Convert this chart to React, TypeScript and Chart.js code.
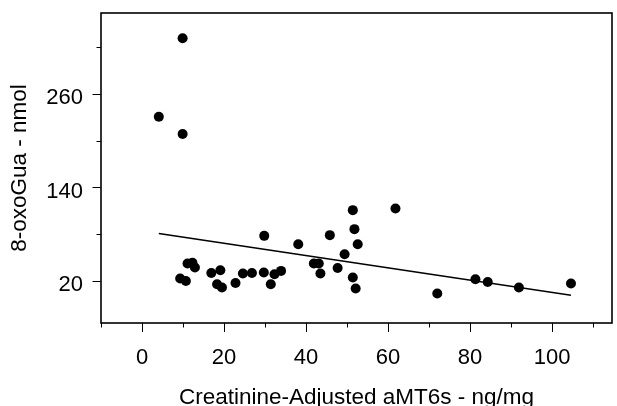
import React, { useEffect, useRef } from "react";
import { Chart, registerables } from "chart.js";

Chart.register(...registerables);

// Scatter data: creatinine-adjusted aMT6s (ng/mg) vs 8-oxoGua (nmol)
const xValues = [9.9, 4.1, 9.9, 9.3, 10.7, 11.1, 12.3, 12.9, 16.9, 19.1, 18.3, 19.5, 22.8, 24.6, 26.8, 29.8, 29.7, 32.3, 33.9, 31.4, 38.1, 41.9, 43.1, 43.5, 45.8, 47.7, 49.4, 51.4, 61.8, 51.8, 52.6, 51.4, 52.1, 72.0, 81.3, 84.3, 91.9, 104.6];
const yValues = [331.6, 230.9, 208.6, 23.1, 20.0, 42.4, 43.2, 37.2, 30.3, 33.8, 15.8, 11.5, 17.4, 29.5, 30.3, 77.9, 30.8, 28.6, 32.9, 15.8, 67.2, 42.4, 42.4, 29.5, 78.8, 36.7, 54.3, 110.9, 113.1, 86.5, 67.2, 24.4, 10.2, 3.8, 22.2, 18.7, 11.5, 16.7];

// Regression line end points
const trendX = [4.1, 104.6];
const trendY = [80.9, 1.6];

// Axis ticks
const xTickLabels = [0, 20, 40, 60, 80, 100];
const xMinorTicks = [-10, 10, 30, 50, 70, 90, 110];
const yTickLabels = [20, 140, 260];
const yMinorTicks = [80, 200, 320];

const xTitle = "Creatinine-Adjusted aMT6s - ng/mg";
const yTitle = "8-oxoGua - nmol";

const FONT = "'Liberation Sans', Arial, sans-serif";

const zeroPadding = (scale: any) => {
  scale.paddingTop = 0;
  scale.paddingBottom = 0;
  scale.paddingLeft = 0;
  scale.paddingRight = 0;
};

const framePlugin = {
  id: "frameAndTicks",
  afterDraw(chart: any) {
    const { ctx, chartArea: a, scales } = chart;
    ctx.save();
    ctx.strokeStyle = "#000";
    ctx.lineWidth = 1;
    ctx.beginPath();
    const xs = scales.x;
    const ys = scales.y;
    for (const v of xTickLabels) {
      const p = Math.round(xs.getPixelForValue(v)) + 0.5;
      ctx.moveTo(p, a.bottom);
      ctx.lineTo(p, a.bottom + 9);
    }
    for (const v of xMinorTicks) {
      const p = Math.round(xs.getPixelForValue(v)) + 0.5;
      ctx.moveTo(p, a.bottom);
      ctx.lineTo(p, a.bottom + 4.5);
    }
    for (const v of yTickLabels) {
      const p = Math.round(ys.getPixelForValue(v)) + 0.5;
      ctx.moveTo(a.left - 8.5, p);
      ctx.lineTo(a.left, p);
    }
    for (const v of yMinorTicks) {
      const p = Math.round(ys.getPixelForValue(v)) + 0.5;
      ctx.moveTo(a.left - 4.5, p);
      ctx.lineTo(a.left, p);
    }
    ctx.stroke();
    ctx.lineWidth = 1.6;
    ctx.strokeRect(a.left, a.top, a.right - a.left, a.bottom - a.top);
    ctx.restore();
  },
};

export default function App() {
  const canvasRef = useRef<HTMLCanvasElement | null>(null);

  useEffect(() => {
    document.body.style.margin = "0";
    const canvas = canvasRef.current;
    if (!canvas) return;

    const chart = new Chart(canvas, {
      type: "scatter",
      data: {
        datasets: [
          {
            label: "points",
            data: xValues.map((x, i) => ({ x, y: yValues[i] })),
            backgroundColor: "#000",
            borderColor: "#000",
            borderWidth: 0,
            pointRadius: 5,
            pointHoverRadius: 5,
          },
          {
            label: "trend",
            type: "line",
            data: trendX.map((x, i) => ({ x, y: trendY[i] })),
            borderColor: "#000",
            borderWidth: 1.5,
            pointRadius: 0,
            fill: false,
            showLine: true,
          } as any,
        ],
      },
      options: {
        animation: false,
        responsive: false,
        devicePixelRatio: 1,
        layout: { padding: { top: 13, right: 1, left: 0, bottom: 0 } },
        plugins: {
          legend: { display: false },
          tooltip: { enabled: false },
        },
        scales: {
          x: {
            type: "linear",
            min: -10,
            max: 114.6,
            afterBuildTicks: (scale: any) => {
              scale.ticks = [...xMinorTicks, ...xTickLabels]
                .sort((p, q) => p - q)
                .map((v) => ({ value: v }));
            },
            afterFit: (scale: any) => {
              scale.height = 83;
              zeroPadding(scale);
            },
            ticks: {
              autoSkip: false,
              maxRotation: 0,
              padding: 13,
              color: "#000",
              font: { family: FONT, size: 22 },
              callback: (v: any) => (xTickLabels.includes(Number(v)) ? String(v) : ""),
            },
            grid: {
              drawOnChartArea: false,
              color: "rgba(0,0,0,0)",
              tickColor: "rgba(0,0,0,0)",
              tickLength: 9,
            },
            border: { display: false },
            title: {
              display: true,
              text: xTitle,
              color: "#000",
              font: { family: FONT, size: 22.5, lineHeight: 0.7 },
              padding: { top: 0, bottom: 0 },
            },
          },
          y: {
            type: "linear",
            min: -34,
            max: 364,
            afterBuildTicks: (scale: any) => {
              scale.ticks = [...yMinorTicks, ...yTickLabels]
                .sort((p, q) => p - q)
                .map((v) => ({ value: v }));
            },
            afterFit: (scale: any) => {
              scale.width = 101;
              zeroPadding(scale);
            },
            ticks: {
              autoSkip: false,
              padding: 9,
              labelOffset: 4,
              color: "#000",
              font: { family: FONT, size: 22 },
              callback: (v: any) => (yTickLabels.includes(Number(v)) ? String(v) : ""),
            },
            grid: {
              drawOnChartArea: false,
              color: "rgba(0,0,0,0)",
              tickColor: "rgba(0,0,0,0)",
              tickLength: 9,
            },
            border: { display: false },
            title: {
              display: true,
              text: yTitle,
              color: "#000",
              font: { family: FONT, size: 22.5, lineHeight: 0.9 },
              padding: { top: 9.8, bottom: 0 },
            },
          },
        },
      },
      plugins: [framePlugin],
    });

    return () => chart.destroy();
  }, []);

  return (
    <div style={{ width: 617, height: 406, position: "relative" }}>
      <canvas ref={canvasRef} width={617} height={406} style={{ display: "block" }} />
    </div>
  );
}
